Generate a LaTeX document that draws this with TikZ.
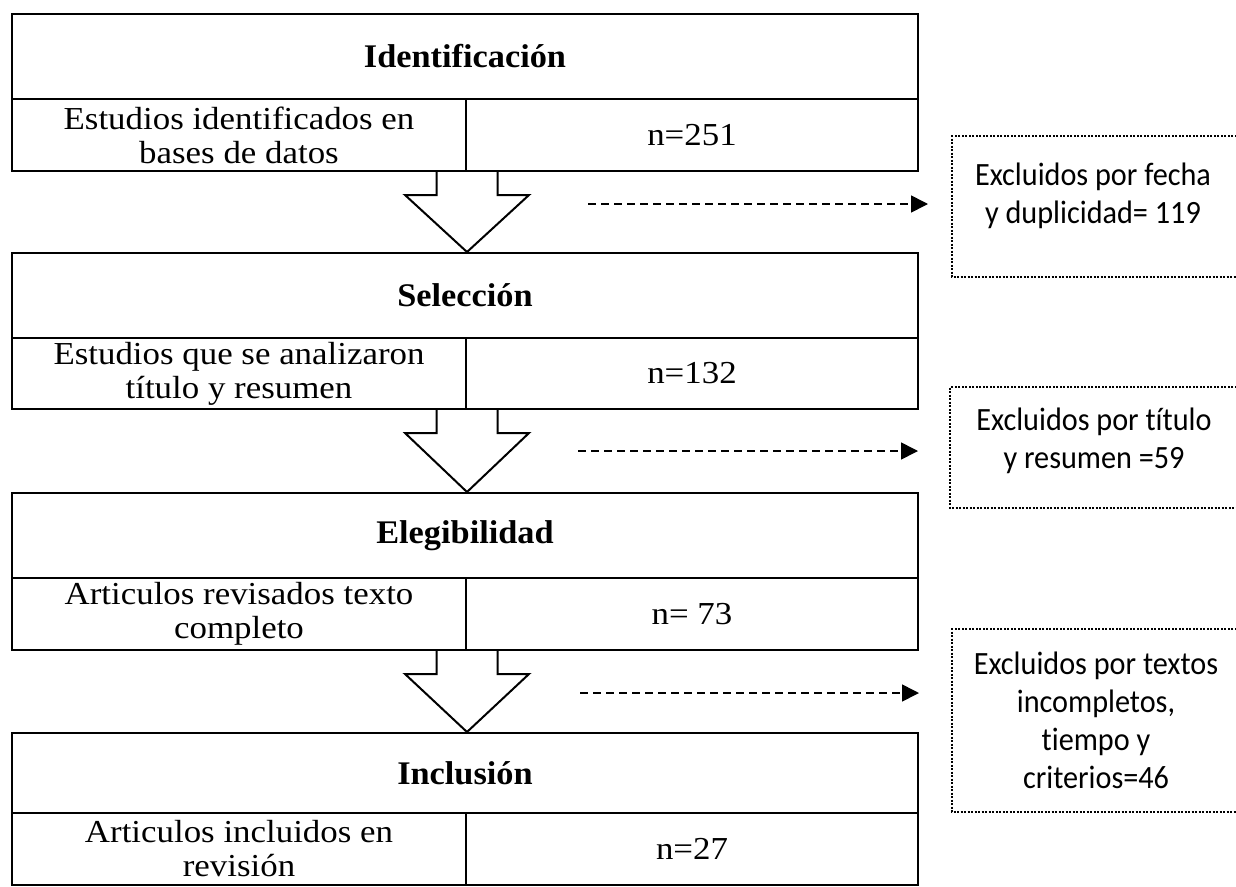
\documentclass[tikz,border=0pt]{standalone}
\usepackage{fontspec}
\setmainfont{Liberation Serif}
\newfontfamily\cellfont[FakeStretch=1.09]{Liberation Serif}
\newfontfamily\headfont[FakeStretch=1.04]{Liberation Serif}
\newfontfamily\exfont[FakeStretch=0.93,Ligatures=NoCommon]{Carlito}
\usetikzlibrary{arrows.meta,calc}
\begin{document}
\begin{tikzpicture}[x=1pt,y=-1pt,
  cellbox/.style={draw=black,line width=2pt,rectangle,anchor=north west,inner sep=0pt,align=center},
  headbox/.style={cellbox,minimum width=906pt,font=\headfont\bfseries\fontsize{33}{36}\selectfont},
  leftbox/.style={cellbox,minimum width=454pt,minimum height=72pt,font=\cellfont\fontsize{32}{34}\selectfont},
  rightbox/.style={cellbox,minimum width=452pt,minimum height=72pt,font=\cellfont\fontsize{32}{34}\selectfont},
  blockarr/.style={draw=black,fill=white,line width=2pt,line join=miter},
  dasharr/.style={draw=black,line width=1.6pt,dash pattern=on 8pt off 5pt,-{Triangle[length=17pt,width=17pt]}},
  dotbox/.style={draw=black,line width=2pt,dash pattern=on 2pt off 1.5pt},
  extext/.style={align=center,inner sep=0pt,font=\exfont\fontsize{32.5}{38}\selectfont}
]
\useasboundingbox (0,0) rectangle (1236,886);

% Stage 1
\node[headbox,minimum height=85pt] (h1) at (11,13) {Identificación};
\node[leftbox] (l1) at (11,98) {Estudios identificados en\\bases de datos};
\node[rightbox] (r1) at (465,98) {n=251};
% Stage 2
\node[headbox,minimum height=85pt] (h2) at (11,252) {Selección};
\node[leftbox,minimum height=71pt] (l2) at (11,337) {Estudios que se analizaron\\título y resumen};
\node[rightbox,minimum height=71pt] (r2) at (465,337) {n=132};
% Stage 3
\node[headbox,minimum height=85pt] (h3) at (11,492) {Elegibilidad};
\node[leftbox] (l3) at (11,577) {Articulos revisados texto\\completo};
\node[rightbox] (r3) at (465,577) {n= 73};
% Stage 4
\node[headbox,minimum height=80pt] (h4) at (11,732) {Inclusión};
\node[leftbox] (l4) at (11,812) {Articulos incluidos en\\revisión};
\node[rightbox] (r4) at (465,812) {n=27};

% Block arrows
\foreach \a/\b in {l1/h2,l2/h3,l3/h4}{
  \draw[blockarr] ($(\a.south east)+(-30.5,0)$) -- ++(0,23) -- ++(-31.5,0)
     -- (\b.north -| \a.south east) -- ($(\a.south east)+(62,23)$) -- ++(-31.5,0)
     -- ($(\a.south east)+(30.5,0)$);
}

% Exclusion boxes (right side runs off the picture)
\draw[dotbox] (1240,136) -- (952,136) -- (952,277) -- (1240,277);
\draw[dotbox] (1240,387) -- (950,387) -- (950,508) -- (1240,508);
\draw[dotbox] (1240,629) -- (952,629) -- (952,812) -- (1240,812);

\node[extext] (e1) at (1093,196) {Excluidos por fecha\\y duplicidad= 119};
\node[extext] (e2) at (1094,441) {Excluidos por título\\y resumen =59};
\node[extext] (e3) at (1096,720) {Excluidos por textos\\incompletos,\\tiempo y\\criterios=46};

% Dashed arrows
\coordinate (s1) at (588,204); \coordinate (t1) at (928,204);
\coordinate (s2) at (578,451); \coordinate (t2) at (918,451);
\coordinate (s3) at (580,693); \coordinate (t3) at (919,693);
\draw[dasharr] (s1) -- (t1);
\draw[dasharr] (s2) -- (t2);
\draw[dasharr] (s3) -- (t3);
\end{tikzpicture}
\end{document}
